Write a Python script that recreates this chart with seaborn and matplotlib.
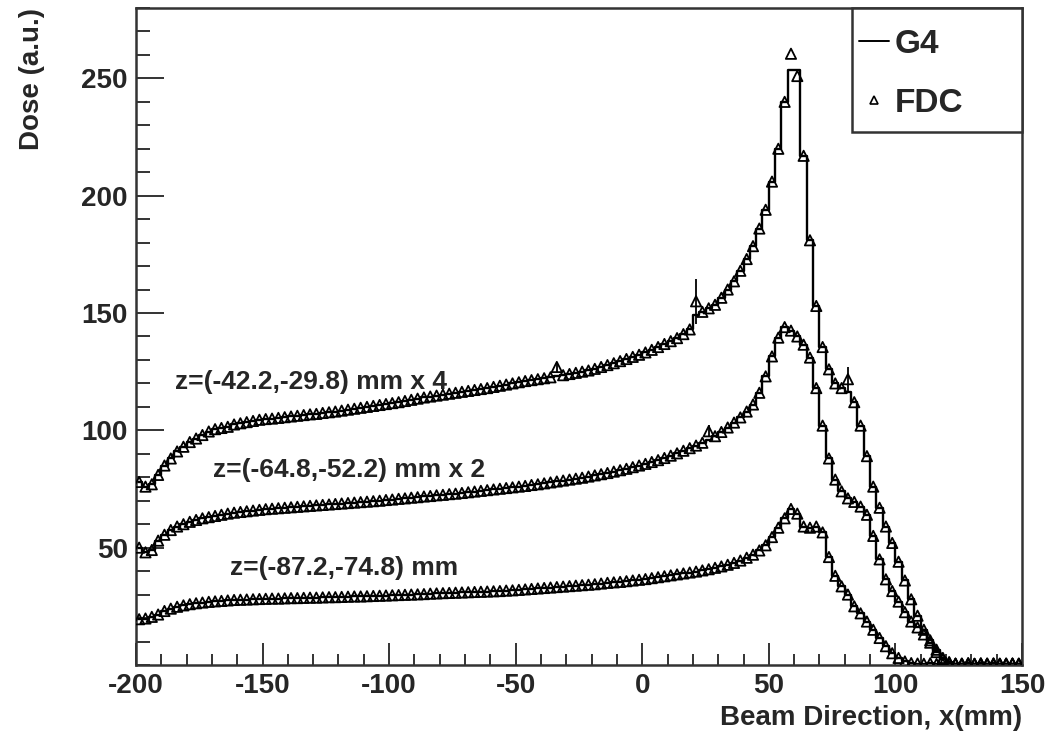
import numpy as np
import pandas as pd
import matplotlib
matplotlib.use("Agg")
import matplotlib.pyplot as plt
from matplotlib.lines import Line2D
from matplotlib.patches import Rectangle
from matplotlib.ticker import MultipleLocator
import seaborn as sns

# --- данные: гистограмма 2.5 мм, от -200 до 150 мм ---
x_start = -200.0
x_stop = 150.0
bin_width = 2.5

# z=(-42.2,-29.8) mm x 4
g4_top = [
    78, 76, 77, 81, 85, 88, 91, 93, 95, 96.5,
    98, 99.5, 100.5, 101, 101.5, 102.5, 103, 103.5, 104, 104.5,
    104.8, 105, 105.3, 105.6, 105.9, 106.2, 106.5, 106.8, 107, 107.4,
    107.7, 108, 108.4, 108.8, 109.2, 109.6, 110, 110.4, 110.8, 111.2,
    111.6, 112, 112.5, 113, 113.5, 114, 114.4, 114.8, 115.2, 115.6,
    116, 116.4, 116.8, 117.2, 117.6, 118, 118.5, 119, 119.5, 120,
    120.5, 121, 121.4, 121.8, 122.2, 122.6, 123, 123.5, 124, 124.5,
    125, 125.5, 126.2, 127, 127.8, 128.6, 129.5, 130.4, 131.3, 132.2,
    133.2, 134.3, 135.5, 136.8, 138, 139.3, 141, 143, 149, 150.5,
    152, 153.5, 156.5, 160, 163.5, 168, 173, 178.5, 186, 194,
    206, 220, 240, 253.5, 253.5, 217, 181, 153, 135.5, 126,
    120, 118, 116.5, 112, 102, 89, 76, 67, 59, 52,
    44, 36, 28, 21, 15, 10.5, 6.5, 3, 1.2, 0.6,
    0.5, 0.8, 0.4, 0.6, 0.5, 0.7, 0.4, 0.6, 0.5, 0.6,
]

# z=(-64.8,-52.2) mm x 2
g4_mid = [
    50, 48, 49, 53, 55.5, 57.5, 59, 60, 61, 61.8,
    62.5, 63, 63.5, 64, 64.5, 64.9, 65.2, 65.5, 65.8, 66.1,
    66.4, 66.6, 66.8, 67, 67.2, 67.4, 67.6, 67.8, 68, 68.2,
    68.4, 68.6, 68.8, 69, 69.2, 69.4, 69.6, 69.8, 70, 70.3,
    70.5, 70.8, 71, 71.3, 71.5, 71.8, 72, 72.3, 72.5, 72.8,
    73, 73.3, 73.6, 73.9, 74.2, 74.5, 74.8, 75.1, 75.4, 75.7,
    76, 76.3, 76.7, 77, 77.4, 77.8, 78.2, 78.6, 79, 79.4,
    79.8, 80.3, 80.8, 81.3, 81.8, 82.4, 83, 83.6, 84.3, 85,
    85.7, 86.5, 87.3, 88.2, 89.2, 90.2, 91.3, 92.4, 93.5, 94.7,
    96, 97.5, 99.3, 101.2, 103.3, 105.5, 108, 111, 116, 123,
    131.5, 139.5, 144, 142.5, 140, 136.5, 131, 118, 102, 88,
    79, 74, 71, 69.5, 67.5, 64, 55, 45, 36.5, 31.5,
    27, 22.5, 18.5, 16, 13, 9.5, 5.5, 2.5, 1, 0.5,
    0.6, 0.4, 0.5, 0.7, 0.5, 0.4, 0.6, 0.5, 0.6, 0.4,
]

# z=(-87.2,-74.8) mm
g4_low = [
    19.5, 19.8, 20.5, 21.5, 23, 24, 24.8, 25.4, 25.9, 26.3,
    26.6, 26.9, 27.1, 27.3, 27.5, 27.7, 27.8, 27.9, 28, 28.1,
    28.2, 28.3, 28.3, 28.4, 28.5, 28.5, 28.6, 28.7, 28.7, 28.8,
    28.9, 28.9, 29, 29.1, 29.2, 29.2, 29.3, 29.4, 29.5, 29.6,
    29.7, 29.8, 29.9, 30, 30.1, 30.2, 30.4, 30.5, 30.6, 30.7,
    30.8, 30.9, 31, 31.1, 31.2, 31.3, 31.4, 31.5, 31.7, 31.8,
    32, 32.2, 32.4, 32.6, 32.8, 33, 33.2, 33.4, 33.6, 33.8,
    34, 34.2, 34.4, 34.7, 35, 35.2, 35.4, 35.7, 36, 36.3,
    36.6, 37, 37.4, 37.8, 38.2, 38.6, 39, 39.4, 39.8, 40.3,
    40.8, 41.4, 42, 42.7, 43.5, 44.5, 45.7, 47, 48.8, 51,
    54.5, 58.5, 62.5, 66.5, 64.5, 59, 58.5, 59, 56.5, 46,
    38, 33.5, 30, 25, 22, 18.5, 15, 11.5, 8, 5,
    3, 1.5, 0.8, 0.6, 0.5, 0.7, 0.4, 0.5, 0.6, 0.5,
    0.4, 0.6, 0.5, 0.4, 0.6, 0.5, 0.4, 0.5, 0.6, 0.5,
]

# FDC совпадает с G4, кроме этих бинов (номер бина, значение, ошибка)
fdc_top_bins = [66, 88, 103, 104, 112]
fdc_top_vals = [127.0, 155.0, 260.5, 251.0, 121.8]
fdc_top_err = [2.0, 9.5, 0.0, 0.0, 5.0]
fdc_mid_bins = [90]
fdc_mid_vals = [99.6]
fdc_mid_err = [2.5]

labels = ["z=(-42.2,-29.8) mm x 4", "z=(-64.8,-52.2) mm x 2", "z=(-87.2,-74.8) mm"]
label_x = [-184.5, -169.5, -163.0]
label_y = [120.5, 83.3, 41.5]

n_bins = len(g4_top)
centers = x_start + bin_width * (np.arange(n_bins) + 0.5)


def fdc_series(g4, bins, vals):
    out = np.array(g4, dtype=float)
    out[bins] = vals
    return out


sns.set_style("ticks")
plt.rcParams.update({
    "font.family": ["Liberation Sans", "DejaVu Sans"],
    "font.weight": "bold",
    "axes.labelweight": "bold",
    "axes.edgecolor": "#333333",
    "axes.linewidth": 1.8,
    "axes.unicode_minus": False,
})

fig = plt.figure(figsize=(10.5, 7.4), dpi=100)
ax = fig.add_axes([0.1295, 0.1014, 0.8438, 0.8878])

series = [
    (g4_top, fdc_top_bins, fdc_top_vals, fdc_top_err),
    (g4_mid, fdc_mid_bins, fdc_mid_vals, fdc_mid_err),
    (g4_low, [], [], []),
]

for g4, bins, vals, errs in series:
    df = pd.DataFrame({"x": centers, "dose": np.asarray(g4, dtype=float),
                       "fdc": fdc_series(g4, bins, vals)})
    sns.histplot(data=df, x="x", weights="dose", binwidth=bin_width,
                 binrange=(x_start, x_stop), element="step", fill=False,
                 color="black", linewidth=1.7, ax=ax)
    sns.scatterplot(data=df, x="x", y="fdc", marker="^", s=55, facecolor="none",
                    edgecolor="black", linewidth=1.3, ax=ax, zorder=3)
    if bins:
        ax.errorbar(centers[bins], vals, yerr=errs, fmt="none",
                    ecolor="black", elinewidth=1.3, capsize=0)

for txt, tx, ty in zip(labels, label_x, label_y):
    ax.text(tx, ty, txt, ha="left", va="center", fontsize=19, fontweight="bold")

ax.set_xlim(x_start, x_stop)
ax.set_ylim(0, 280)
ax.set_yticks([50, 100, 150, 200, 250])
ax.xaxis.set_major_locator(MultipleLocator(50))
ax.xaxis.set_minor_locator(MultipleLocator(10))
ax.yaxis.set_minor_locator(MultipleLocator(10))
ax.tick_params(axis="both", which="both", direction="in", top=False, right=False,
               labelsize=20, width=1.4, color="#333333")
ax.tick_params(axis="x", which="major", length=16, pad=6)
ax.tick_params(axis="x", which="minor", length=8)
ax.tick_params(axis="y", which="major", length=20, pad=6)
ax.tick_params(axis="y", which="minor", length=10)
for lab in ax.get_xticklabels() + ax.get_yticklabels():
    lab.set_fontweight("bold")

ax.set_xlabel("Beam Direction, x(mm)", fontsize=20, loc="right", labelpad=4)
ax.set_ylabel("Dose (a.u.)", fontsize=20, loc="top", labelpad=26)

# рамка легенды в стиле ROOT (текст прижат влево)
ax.add_patch(Rectangle((0.808, 0.811), 0.192, 0.189, transform=ax.transAxes,
                       facecolor="white", edgecolor="#333333", linewidth=1.8,
                       clip_on=False, zorder=4))
handles = [
    Line2D([], [], color="black", linewidth=1.4),
    Line2D([], [], marker="^", linestyle="", markerfacecolor="none",
           markeredgecolor="black", markersize=6, markeredgewidth=1.2),
]
leg = ax.legend(handles, ["G4", "FDC"], loc="upper left",
                bbox_to_anchor=(0.808, 0.978), borderaxespad=0, frameon=False,
                prop={"size": 24, "weight": "bold"}, handlelength=0.9,
                handletextpad=0.18, borderpad=0.2, labelspacing=0.84)
leg.set_zorder(5)

fig.savefig("out.png", dpi=100)
